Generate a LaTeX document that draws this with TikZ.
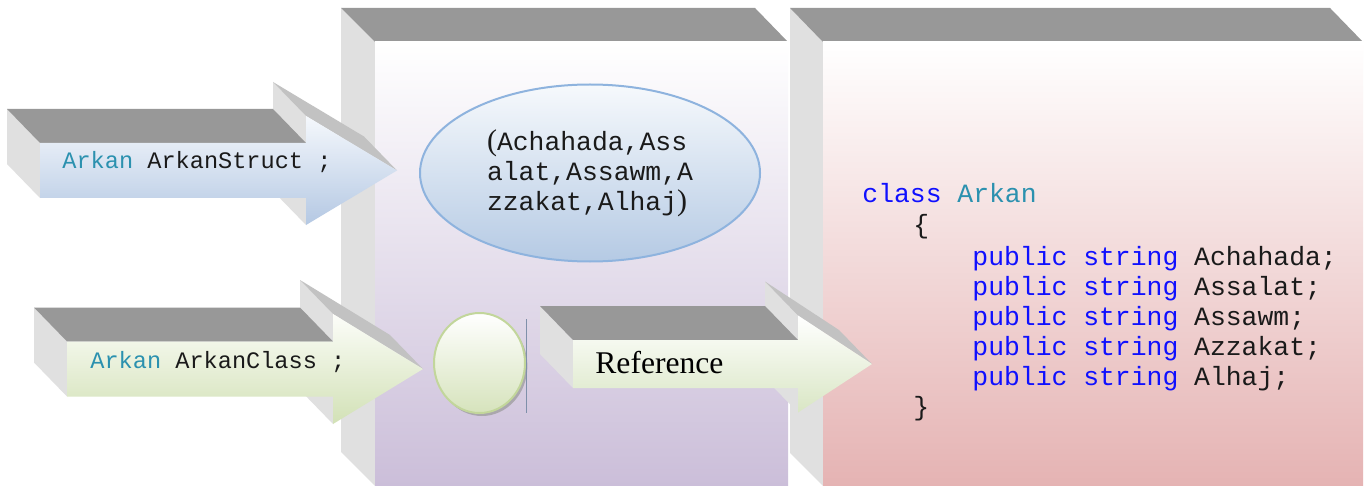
\documentclass[tikz,border=0pt]{standalone}
\usepackage{fontspec}
\setmonofont{Liberation Mono}
\newfontfamily\serifR{Liberation Serif}
\usetikzlibrary{shapes.geometric,shadows}
\definecolor{topface}{HTML}{989898}
\definecolor{sideface}{HTML}{E0E0E0}
\definecolor{slantface}{HTML}{C2C2C2}
\definecolor{panelA}{HTML}{CBBED9}
\definecolor{panelB}{HTML}{E5B3B3}
\definecolor{blueT}{HTML}{F5F8FC}
\definecolor{blueB}{HTML}{B4C8E3}
\definecolor{greenT}{HTML}{FCFDF9}
\definecolor{greenB}{HTML}{D2E1B6}
\definecolor{refB}{HTML}{D9E6C4}
\definecolor{ellT}{HTML}{F6F9FC}
\definecolor{ellBot}{HTML}{B5CAE4}
\definecolor{ellLine}{HTML}{8EB3DE}
\definecolor{circLine}{HTML}{C2D69B}
\definecolor{circBot}{HTML}{D6E3BC}
\definecolor{kw}{HTML}{1010FF}
\definecolor{tp}{HTML}{2B91AF}
\definecolor{ink}{HTML}{1A1A1A}
\definecolor{vcol}{HTML}{7F90AA}
\newcommand\tdarrow[8]{%
  \fill[sideface] ({#1-33},{#4-#5-34}) -- (#1,{#4-#5}) -- (#1,{#4+#5}) -- ({#1-33},{#4+#5-34}) -- cycle;
  \fill[sideface] ({#2-33},{#4-#6-34}) -- (#2,{#4-#6}) -- (#2,{#4+#6}) -- ({#2-33},{#4+#6-34}) -- cycle;
  \fill[slantface] ({#2-33},{#4-#6-34}) -- ({#3-33},{#4-34}) -- (#3,#4) -- (#2,{#4-#6}) -- cycle;
  \fill[topface] ({#1-33},{#4-#5-34}) -- ({#2-33},{#4-#5-34}) -- (#2,{#4-#5}) -- (#1,{#4-#5}) -- cycle;
  \shade[top color=#7, bottom color=#8] (#1,{#4-#5}) -- (#2,{#4-#5}) -- (#2,{#4-#6}) -- (#3,#4) -- (#2,{#4+#6}) -- (#2,{#4+#5}) -- (#1,{#4+#5}) -- cycle;
}
\tikzset{
  arrowtxt/.style={anchor=base west, inner sep=0pt, text=ink, font=\fontsize{11.8}{14}\selectfont\ttfamily},
  codetxt/.style={anchor=base west, inner sep=0pt, text=ink, font=\fontsize{13.2}{15}\selectfont\ttfamily},
  vline/.style={draw=vcol, line width=0.4pt}
}
\begin{document}
\begin{tikzpicture}[x=0.5pt,y=-0.5pt]
\useasboundingbox (0,0) rectangle (1368,486);
\fill[white] (0,0) rectangle (1368,486);
% middle panel
\fill[sideface] (341,8) -- (375,42) -- (375,486) -- (341,452) -- cycle;
\fill[topface] (341,8) -- (755,8) -- (788,42) -- (375,42) -- cycle;
\shade[top color=white, bottom color=panelA] (375,42) rectangle (788,486);
% right panel
\fill[sideface] (790,8) -- (823,42) -- (823,486) -- (790,453) -- cycle;
\fill[topface] (790,8) -- (1330,8) -- (1363,42) -- (823,42) -- cycle;
\shade[top color=white, bottom color=panelB] (823,42) rectangle (1363,486);
% arrows
\tdarrow{40}{306}{397}{170.5}{27.5}{54.5}{blueT}{blueB}
\tdarrow{67}{333}{423}{369}{27.5}{55}{greenT}{greenB}
\tdarrow{573}{798}{872}{364}{24}{48.5}{white}{refB}
\node[arrowtxt] (a1) at (62,169) {\textcolor{tp}{Arkan} ArkanStruct ;};
\node[arrowtxt] (a2) at (90,368) {\textcolor{tp}{Arkan} ArkanClass ;};
\node[anchor=base west, inner sep=0pt, text=black, font=\fontsize{15.8}{18}\selectfont\serifR] (ref) at (595,373) {Reference};
% enum ellipse
\node[ellipse, draw=ellLine, line width=1pt, top color=ellT, bottom color=ellBot,
      minimum width=170pt, minimum height=88.5pt, inner sep=0pt, align=left, text=ink,
      font=\fontsize{13.2}{15}\selectfont\ttfamily] (set) at (590,173)
  {{\fontsize{15}{15}\selectfont\serifR(}Achahada,Ass\\alat,Assawm,A\\zzakat,Alhaj{\fontsize{15}{15}\selectfont\serifR)}};
% object circle
\node[ellipse, draw=circLine, line width=1pt, top color=white, bottom color=circBot,
      minimum width=45.5pt, minimum height=50pt, inner sep=0pt,
      drop shadow={shadow xshift=1.2pt, shadow yshift=-1.5pt, fill=black!40, opacity=0.7}] (obj) at (479.5,363) {};
\coordinate (v1) at (526,319);
\coordinate (v2) at (526,413);
\draw[vline] (v1) -- (v2);
% code
\node[codetxt] (c0) at (862,203) {\textcolor{kw}{class} \textcolor{tp}{Arkan}};
\node[codetxt] (c1) at (913,234) {\{};
\node[codetxt] (c2) at (972,265) {\textcolor{kw}{public string} Achahada;};
\node[codetxt] (c3) at (972,295) {\textcolor{kw}{public string} Assalat;};
\node[codetxt] (c4) at (972,325) {\textcolor{kw}{public string} Assawm;};
\node[codetxt] (c5) at (972,355) {\textcolor{kw}{public string} Azzakat;};
\node[codetxt] (c6) at (972,385) {\textcolor{kw}{public string} Alhaj;};
\node[codetxt] (c7) at (913,415) {\}};
\end{tikzpicture}
\end{document}
